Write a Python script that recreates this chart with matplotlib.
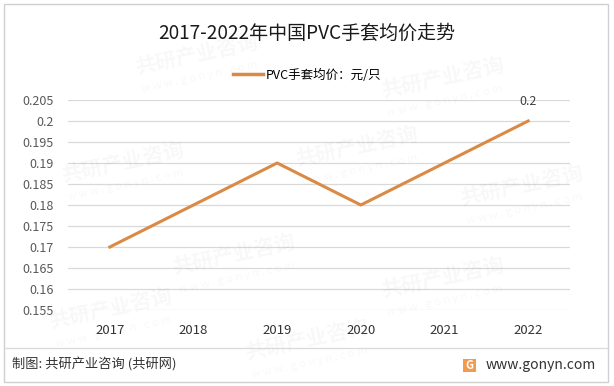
import matplotlib.pyplot as plt
from matplotlib.patches import Rectangle
from matplotlib.lines import Line2D

plt.rcParams['font.family'] = ['Noto Sans CJK SC', 'DejaVu Sans']

# データ
years = ['2017', '2018', '2019', '2020', '2021', '2022']
prices = [0.17, 0.18, 0.19, 0.18, 0.19, 0.2]
yticks = [0.155, 0.16, 0.165, 0.17, 0.175, 0.18, 0.185, 0.19, 0.195, 0.2, 0.205]
ytick_labels = ['0.155', '0.16', '0.165', '0.17', '0.175', '0.18', '0.185', '0.19', '0.195', '0.2', '0.205']

line_color = '#DA8A45'

fig = plt.figure(figsize=(6.14, 3.86), dpi=100)
ax = fig.add_axes([68 / 614, 1 - 310 / 386, 502 / 614, 210 / 386])

# 透かし（薄く）
wm_pos = [(0.32, 0.86), (0.72, 0.8), (0.2, 0.58), (0.58, 0.62), (0.85, 0.52),
          (0.38, 0.34), (0.72, 0.28), (0.18, 0.2), (0.5, 0.12)]
for x, y in wm_pos:
    fig.text(x, y, '共研产业咨询', fontsize=15, fontweight='bold', color='#000000', alpha=0.03,
             rotation=12, ha='center', va='center', zorder=0)
    fig.text(x + 0.005, y - 0.06, 'w w w . g o n y n . c o m', fontsize=8, color='#000000',
             alpha=0.03, rotation=12, ha='center', va='center', zorder=0)

x = list(range(len(years)))
ax.plot(x, prices, color=line_color, linewidth=2.2, zorder=3)
ax.annotate('0.2', (x[-1], prices[-1]), xytext=(0, 9), textcoords='offset points',
            ha='center', va='bottom', fontsize=9, color='#404040')

ax.set_xlim(-0.5, len(years) - 0.5)
ax.set_ylim(0.155, 0.205)
ax.set_xticks(x)
ax.set_xticklabels(years, fontsize=9.5, color='#333333')
ax.set_yticks(yticks)
ax.set_yticklabels(ytick_labels, fontsize=9, color='#595959')
ax.tick_params(axis='both', length=0)
ax.tick_params(axis='x', pad=10)
ax.tick_params(axis='y', pad=10)
ax.grid(axis='y', color='#D9D9D9', linewidth=0.9)
ax.set_axisbelow(True)
for s in ax.spines.values():
    s.set_visible(False)
ax.patch.set_alpha(0)

# タイトルと凡例
fig.text(0.5, 1 - 33 / 386, '2017-2022年中国PVC手套均价走势', fontsize=13.7, ha='center', va='center',
         color='#1a1a1a')
handle = Line2D([], [], color=line_color, linewidth=2.5)
fig.legend([handle], ['PVC手套均价：元/只'], loc='center', bbox_to_anchor=(0.5, 1 - 75 / 386),
           frameon=False, fontsize=9, handlelength=2.4, handletextpad=0.2)

# 枠線
fig.patches.append(Rectangle((4 / 614, 4 / 386), 604 / 614, 378 / 386, transform=fig.transFigure,
                             fill=False, edgecolor='#D0D0D0', linewidth=1))
fig.add_artist(Line2D([4 / 614, 608 / 614], [1 - 348 / 386, 1 - 348 / 386], color='#D9D9D9', linewidth=0.9))

# フッター
fig.text(12 / 614, 1 - 365 / 386, '制图: 共研产业咨询 (共研网)', fontsize=9.5, ha='left', va='center', color='#333333')
fig.patches.append(Rectangle((463 / 614, 1 - 372 / 386), 13 / 614, 13 / 386, transform=fig.transFigure,
                             facecolor='#F39A4C', edgecolor='none'))
fig.text(469.5 / 614, 1 - 365.5 / 386, 'G', fontsize=8, fontweight='bold', color='white', ha='center', va='center')
fig.text(486 / 614, 1 - 365 / 386, 'www.gonyn.com', fontsize=10, ha='left', va='center', color='#333333')

fig.savefig('out.png', dpi=100)
